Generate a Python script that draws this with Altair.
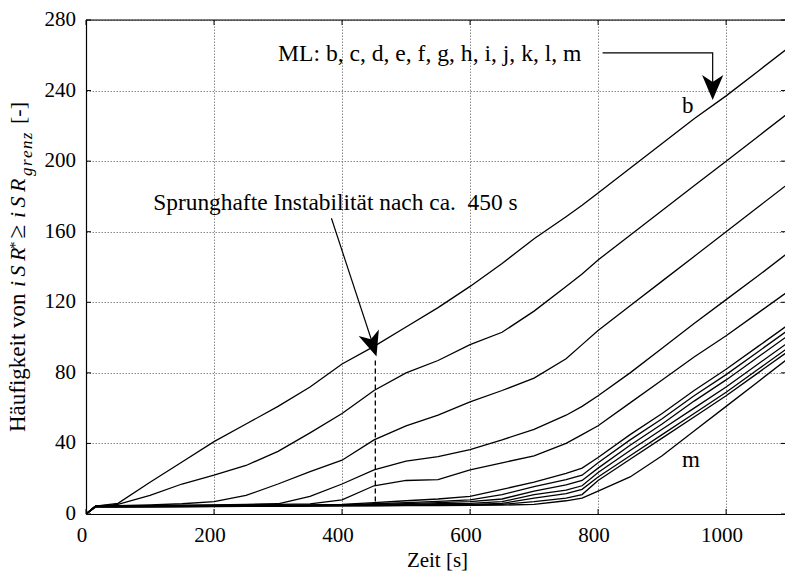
import altair as alt
import pandas as pd

# ---------------- data ----------------
T = [0, 15, 50, 100, 150, 200, 250, 300, 350, 400, 450, 500, 550, 600, 650,
     700, 750, 775, 800, 850, 900, 950, 1000, 1050, 1100]

S_b = [0, 4.5, 6, 18, 29.5, 41, 51, 61, 72, 85, 95, 106, 117, 129, 142, 156, 168.5, 175, 182, 196, 210, 224, 237, 251, 265]
S_c = [0, 4.5, 5.5, 10.5, 17, 22, 27.5, 35.5, 46, 57, 70, 80, 87, 96, 103, 115, 129, 136, 144, 158, 172, 186, 200, 214, 228]
S_d = [0, 4.5, 4.8, 5.2, 5.8, 7, 10.5, 17, 24, 30.5, 42, 50, 56, 63.5, 70, 77, 88, 96, 104, 118, 132, 146, 160, 174, 188]
S_e = [0, 4.5, 4.6, 4.8, 5, 5.2, 5.5, 5.8, 10, 17, 25, 30, 32.5, 36.5, 42, 48, 56, 61, 67, 80, 94, 108, 121.5, 135, 149]
S_f = [0, 4.5, 4.5, 4.6, 4.8, 5, 5.2, 5.4, 5.7, 8, 16, 19, 19.5, 25, 29, 33, 40, 45, 50, 63, 76, 89, 101, 114, 127]
S_g = [0, 4.5, 4.5, 4.6, 4.7, 4.8, 4.9, 5, 5.2, 5.5, 6.5, 7.5, 8.5, 10, 14, 18, 23, 26, 32, 45, 57, 70, 82, 95, 108]
S_h = [0, 4.4, 4.4, 4.5, 4.6, 4.7, 4.8, 4.9, 5, 5.2, 5.8, 6.5, 7.2, 8, 11, 15.5, 19.5, 22, 29, 42, 54, 67, 79, 92, 105]
S_i = [0, 4.3, 4.3, 4.4, 4.5, 4.6, 4.7, 4.8, 4.9, 5, 5.4, 5.9, 6.4, 7, 8.5, 13, 16.5, 19, 26, 39, 51, 64, 76, 89, 102]
S_j = [0, 4.2, 4.2, 4.3, 4.4, 4.5, 4.6, 4.7, 4.8, 4.9, 5.1, 5.4, 5.8, 6, 7, 11, 13.5, 16, 23.5, 36, 48, 60, 72, 85, 98]
S_k = [0, 4.1, 4.1, 4.2, 4.3, 4.4, 4.5, 4.6, 4.7, 4.8, 4.9, 5.1, 5.3, 5.5, 6, 9, 11.5, 14, 21, 33, 45, 57, 69, 82, 95]
S_l = [0, 4, 4, 4.1, 4.2, 4.3, 4.4, 4.5, 4.6, 4.7, 4.8, 4.9, 5, 5.2, 5.5, 7, 9, 11, 19, 31, 43, 55, 67, 80, 93]
S_m = [0, 4, 4, 4, 4.1, 4.2, 4.3, 4.4, 4.5, 4.6, 4.6, 4.7, 4.8, 4.9, 5, 5.5, 7.5, 9, 13, 21, 33, 47, 61, 75, 89]

SERIES = {"b": S_b, "c": S_c, "d": S_d, "e": S_e, "f": S_f, "g": S_g,
          "h": S_h, "i": S_i, "j": S_j, "k": S_k, "l": S_l, "m": S_m}

X_TICKS = [0, 200, 400, 600, 800, 1000]
Y_TICKS = [0, 40, 80, 120, 160, 200, 240, 280]
X_LABELS = ["0", "200", "400", "600", "800", "1000"]
Y_LABELS = ["0", "40", "80", "120", "160", "200", "240", "280"]
X_TITLE = "Zeit [s]"
X_DOMAIN = [0, 1092]
Y_DOMAIN = [0, 280]

# annotations (data coordinates)
ML_TEXT = "ML: b, c, d, e, f, g, h, i, j, k, l, m"
ML_TEXT_POS = (300, 257)
ML_ARROW_X = [807, 979, 979]
ML_ARROW_Y = [261.4, 261.4, 244]
ML_TIP = (979, 234.6)

JUMP_TEXT = "Sprunghafte Instabilität nach ca.\u00a0 450 s"
JUMP_TEXT_POS = (105, 172.3)
JUMP_ARROW_X = [383.4, 447]
JUMP_ARROW_Y = [167.6, 97.5]
JUMP_TIP = (453.8, 89.3)
DASH_X = 452
DASH_Y = [87, 4.5]

LABELS = ["b", "m"]
LABEL_X = [931, 931]
LABEL_Y = [227.2, 26.9]

# y-axis title pieces: text, italic, size, start (px from plot top), x offset (px from plot left)
YT_TEXT = ["Häufigkeit von", "i\u2009S\u2009R", "*", "≥", "i\u2009S\u2009R",
           "g\u200ar\u200ae\u200an\u200az", "[-]"]
YT_ITALIC = [False, True, False, False, True, True, False]
YT_SIZE = [23, 22, 15, 25, 22, 17, 22]
YT_START = [412, 267, 229, 218.5, 198, 156, 104]
YT_X = [-61, -61, -66, -61, -61, -54, -61]

# ---------------- chart ----------------
W, H = 699, 494
FONT = "Liberation Serif"
xs = alt.Scale(domain=X_DOMAIN, nice=False, zero=False)
ys = alt.Scale(domain=Y_DOMAIN, nice=False, zero=False)

rows = []
for name, vals in SERIES.items():
    for t, v in zip(T, vals):
        rows.append({"t": t, "v": v, "s": name})
df = pd.DataFrame(rows)

grid_kw = dict(grid=True, gridColor="#8a8a8a", gridDash=[1.5, 1.5], gridWidth=1,
               ticks=False, domain=True, domainColor="black", domainWidth=1.2,
               labels=False, title=None)
AX_X = alt.Axis(values=X_TICKS, **grid_kw)
AX_Y = alt.Axis(values=Y_TICKS, **grid_kw)
XE = alt.X("t:Q", scale=xs, axis=AX_X)
YE = alt.Y("v:Q", scale=ys, axis=AX_Y)

lines = alt.Chart(df).mark_line(color="black", strokeWidth=1.3, clip=True).encode(
    x=XE, y=YE, detail="s:N")

xt = pd.DataFrame({"t": X_TICKS, "lab": X_LABELS})
yt = pd.DataFrame({"v": Y_TICKS, "lab": Y_LABELS})
tick_b = alt.Chart(xt).mark_rule(color="black", strokeWidth=1).encode(
    x=XE, y=alt.value(H), y2=alt.value(H - 5))
tick_t = alt.Chart(xt).mark_rule(color="black", strokeWidth=1).encode(
    x=XE, y=alt.value(0), y2=alt.value(5))
tick_l = alt.Chart(yt).mark_rule(color="black", strokeWidth=1).encode(
    y=YE, x=alt.value(0), x2=alt.value(5))
tick_r = alt.Chart(yt).mark_rule(color="black", strokeWidth=1).encode(
    y=YE, x=alt.value(W - 4), x2=alt.value(W))
top_border = alt.Chart(pd.DataFrame({"a": [0]})).mark_rule(color="black", strokeWidth=1.2).encode(
    x=alt.value(0), x2=alt.value(W), y=alt.value(0))

# tick labels and x title as text (serif)
xlab = alt.Chart(xt).mark_text(font=FONT, fontSize=21, align="center", baseline="alphabetic",
                               color="black", dx=-4).encode(
    x=XE, y=alt.value(H + 28), text="lab:N")
ylab = alt.Chart(yt).mark_text(font=FONT, fontSize=21, align="right", baseline="middle",
                               color="black").encode(
    y=YE, x=alt.value(-10), text="lab:N")
xtitle = alt.Chart(pd.DataFrame({"txt": [X_TITLE]})).mark_text(
    font=FONT, fontSize=21, align="center", baseline="alphabetic", color="black").encode(
    x=alt.value(351.5), y=alt.value(H + 53), text="txt:N")

ARROW = "M0,0 L-0.85,-2 L0,-1.45 L0.85,-2 Z"

# ML arrow
ml_df = pd.DataFrame({"t": ML_ARROW_X, "v": ML_ARROW_Y, "o": [0, 1, 2]})
ml_line = alt.Chart(ml_df).mark_line(color="black", strokeWidth=1.2).encode(
    x=XE, y=YE, order="o:Q")
ml_head = alt.Chart(pd.DataFrame({"t": [ML_TIP[0]], "v": [ML_TIP[1]]})).mark_point(
    shape=ARROW, filled=True, color="black", size=625, opacity=1, strokeWidth=0).encode(x=XE, y=YE)
ml_text = alt.Chart(pd.DataFrame({"t": [ML_TEXT_POS[0]], "v": [ML_TEXT_POS[1]], "txt": [ML_TEXT]})).mark_text(
    font=FONT, fontSize=23.6, align="left", baseline="alphabetic", color="black").encode(
    x=XE, y=YE, text="txt:N")

# jump arrow
j_df = pd.DataFrame({"t": JUMP_ARROW_X, "v": JUMP_ARROW_Y, "o": [0, 1]})
j_line = alt.Chart(j_df).mark_line(color="black", strokeWidth=1.2).encode(x=XE, y=YE, order="o:Q")
j_head = alt.Chart(pd.DataFrame({"t": [JUMP_TIP[0]], "v": [JUMP_TIP[1]]})).mark_point(
    shape=ARROW, filled=True, color="black", size=625, opacity=1, strokeWidth=0, angle=342).encode(x=XE, y=YE)
j_text = alt.Chart(pd.DataFrame({"t": [JUMP_TEXT_POS[0]], "v": [JUMP_TEXT_POS[1]], "txt": [JUMP_TEXT]})).mark_text(
    font=FONT, fontSize=23.4, align="left", baseline="alphabetic", color="black").encode(
    x=XE, y=YE, text="txt:N")
dash = alt.Chart(pd.DataFrame({"t": [DASH_X], "v": [DASH_Y[0]], "v2": [DASH_Y[1]]})).mark_rule(
    color="black", strokeWidth=1.3, strokeDash=[5, 3]).encode(x=XE, y=YE, y2="v2:Q")

lab = alt.Chart(pd.DataFrame({"t": LABEL_X, "v": LABEL_Y, "txt": LABELS})).mark_text(
    font=FONT, fontSize=23, align="left", baseline="alphabetic", color="black").encode(
    x=XE, y=YE, text="txt:N")

# y-axis title pieces (rotated)
title_layers = []
for txt, it, sz, st, xo in zip(YT_TEXT, YT_ITALIC, YT_SIZE, YT_START, YT_X):
    kw = dict(font=FONT, fontSize=sz, angle=270, align="left", baseline="alphabetic", color="black")
    if it:
        kw["fontStyle"] = "italic"
    title_layers.append(
        alt.Chart(pd.DataFrame({"txt": [txt]})).mark_text(**kw).encode(
            x=alt.value(xo), y=alt.value(st), text="txt:N"))

chart = alt.layer(lines, tick_b, tick_t, tick_l, tick_r, top_border, xlab, ylab, xtitle,
                  ml_line, ml_head, ml_text, j_line, j_head, j_text, dash, lab,
                  *title_layers).properties(
    width=W, height=H,
    autosize=alt.AutoSizeParams(type="none"),
    padding={"left": 86, "top": 20, "right": 0, "bottom": 60},
).configure_view(stroke=None).configure(font=FONT)

chart.save("out.html", embed_options={"renderer": "svg", "actions": False})
